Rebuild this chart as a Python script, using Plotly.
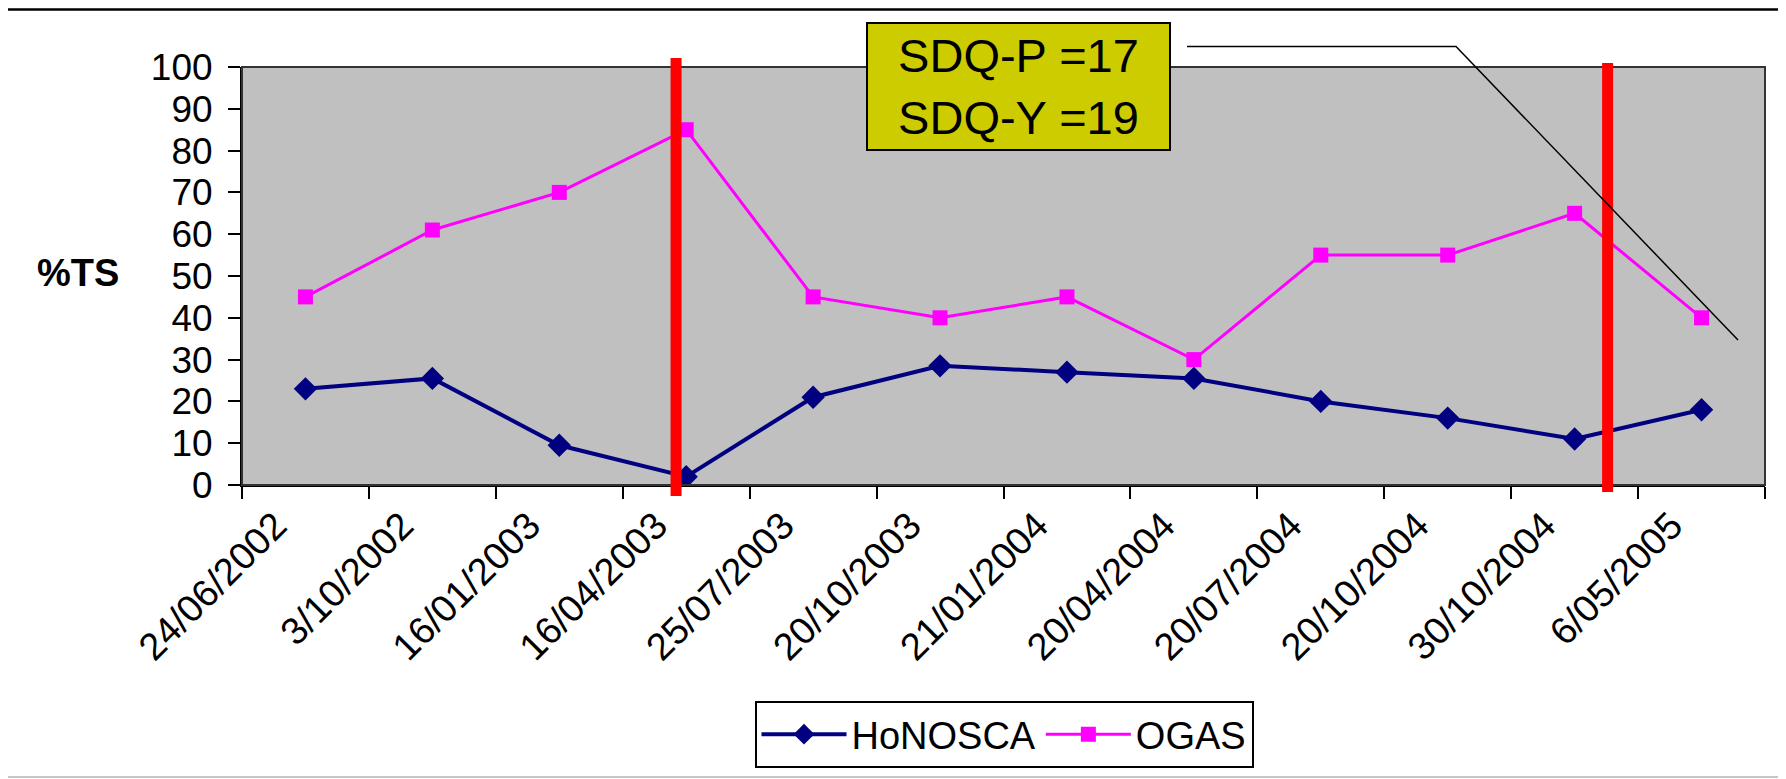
import plotly.graph_objects as go

# ---- data ----
dates = ["24/06/2002", "3/10/2002", "16/01/2003", "16/04/2003", "25/07/2003",
         "20/10/2003", "21/01/2004", "20/04/2004", "20/07/2004", "20/10/2004",
         "30/10/2004", "6/05/2005"]
honosca = [23, 25.5, 9.5, 2, 21, 28.5, 27, 25.5, 20, 16, 11, 18]
ogas = [45, 61, 70, 85, 45, 40, 45, 30, 55, 55, 65, 40]
event_positions = [2.92, 10.26]          # red vertical markers (category units)
note_lines = ["SDQ-P =17", "SDQ-Y =19"]

OFF = 8                                  # page body margin of the html page
W, H = 1786 - OFF, 779 - OFF
# plot area in screen pixels: left 242, right 1765, top 67, bottom 485
L, R, T, B = 242 - OFF, 1786 - 1765, 67 - OFF, 779 - 485
PW, PH = W - L - R, H - T - B

def px(x):
    """screen x pixel -> paper"""
    return (x - OFF - L) / PW

def py(y):
    """screen y pixel -> paper"""
    return (H - B - (y - OFF)) / PH

FONT = "Liberation Sans, Arial, sans-serif"

fig = go.Figure()
fig.add_trace(go.Scatter(
    x=dates, y=honosca, name="HoNOSCA", mode="lines+markers",
    line=dict(color="#000080", width=4),
    marker=dict(symbol="diamond", size=18, color="#000080"),
))
fig.add_trace(go.Scatter(
    x=dates, y=ogas, name="OGAS", mode="lines+markers",
    line=dict(color="#FF00FF", width=3),
    marker=dict(symbol="square", size=15, color="#FF00FF"),
))

shapes = []
# plot-area border
shapes.append(dict(type="rect", xref="paper", yref="paper", x0=0, x1=1, y0=0, y1=1,
                   line=dict(color="#333333", width=2), layer="above"))
# red event lines
for i, xp in enumerate(event_positions):
    shapes.append(dict(type="line", xref="x", yref="paper", x0=xp, x1=xp,
                       y0=py(496 if i == 0 else 492), y1=py(58 if i == 0 else 63),
                       line=dict(color="#FF0000", width=11), layer="above"))
# connector line from the note box
shapes.append(dict(type="path", xref="paper", yref="paper",
                   path=f"M {px(1187)} {py(46.5)} L {px(1456)} {py(46.5)} L {px(1738)} {py(340)}",
                   line=dict(color="black", width=1.5), layer="above"))
# top rule and bottom rule of the slide
shapes.append(dict(type="line", xref="paper", yref="paper", x0=px(0), x1=px(1786),
                   y0=py(9.5), y1=py(9.5), line=dict(color="black", width=2.5)))
shapes.append(dict(type="line", xref="paper", yref="paper", x0=px(0), x1=px(1786),
                   y0=py(777), y1=py(777), line=dict(color="#C8C8C8", width=2)))

annotations = [
    dict(text="<br>".join(note_lines), xref="paper", yref="paper",
         x=px(1019), y=py(86.5), xanchor="center", yanchor="middle", showarrow=False,
         bgcolor="#CCCC00", bordercolor="black", borderwidth=2, borderpad=0,
         width=301, height=125, align="center",
         font=dict(family=FONT, size=47, color="black")),
    dict(text="<b>%TS</b>", xref="paper", yref="paper", x=px(78), y=py(273),
         xanchor="center", yanchor="middle", showarrow=False,
         font=dict(family=FONT, size=38, color="black")),
]

fig.update_layout(
    width=W, height=H,
    margin=dict(l=L, r=R, t=T, b=B, autoexpand=False),
    paper_bgcolor="white", plot_bgcolor="#C0C0C0",
    font=dict(family=FONT, color="black"),
    shapes=shapes, annotations=annotations,
    legend=dict(orientation="h", x=px(1004), xanchor="center", y=py(701), yanchor="top",
                bgcolor="white", bordercolor="black", borderwidth=2,
                font=dict(family=FONT, size=38, color="black"),
                itemwidth=85, tracegroupgap=0),
)
fig.update_xaxes(
    type="category", range=[-0.5, len(dates) - 0.5], tickson="boundaries",
    ticks="outside", ticklen=12, tickwidth=2, tickcolor="black",
    showline=True, linecolor="black", linewidth=2, showgrid=False,
    tickangle=-45, tickfont=dict(family=FONT, size=38, color="black"),
    ticklabelstandoff=1, ticklabelshift=-30,
)
fig.update_yaxes(
    range=[0, 100], dtick=10, ticks="outside", ticklen=12, tickwidth=2, tickcolor="black",
    showline=True, linecolor="black", linewidth=2, showgrid=False, zeroline=False,
    tickfont=dict(family=FONT, size=37, color="black"), ticklabelstandoff=8,
)

fig.write_html("out.html")
